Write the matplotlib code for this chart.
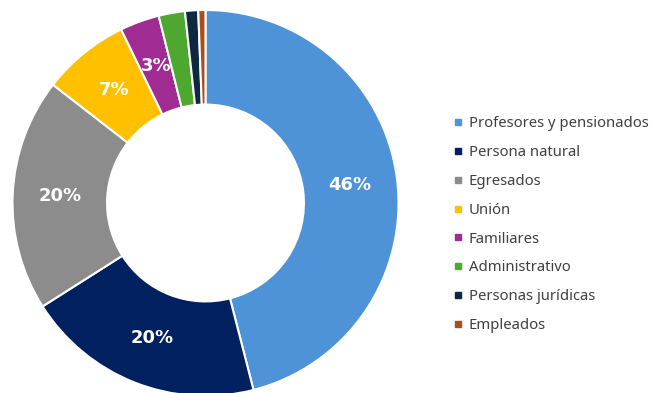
import matplotlib.pyplot as plt
from matplotlib.lines import Line2D

# datos (porcentajes)
categorias = ['Profesores y pensionados', 'Persona natural', 'Egresados', 'Unión',
              'Familiares', 'Administrativo', 'Personas jurídicas', 'Empleados']
valores = [46, 20, 19.5, 7.3, 3.3, 2.2, 1.1, 0.6]
colores = ['#4E93D8', '#002060', '#8C8C8C', '#FFC000',
           '#A02B93', '#4EA72E', '#0E2841', '#A5501E']

fig = plt.figure(figsize=(6.52, 3.93), dpi=100)
ax = fig.add_axes([12.5/652, -3/393, 386/652, 386/393])

def etiqueta(p):
    # solo se rotulan los sectores grandes
    return f'{p:.0f}%' if p >= 3 else ''

wedges, texts, autotexts = ax.pie(
    valores, colors=colores, startangle=90, counterclock=False,
    radius=1, autopct=etiqueta, pctdistance=0.755,
    wedgeprops=dict(width=0.49, edgecolor='white', linewidth=1.5),
    textprops=dict(color='white', fontsize=13, fontweight='bold', family='DejaVu Sans'))
ax.set_xlim(-1, 1)
ax.set_ylim(-1, 1)
ax.set_aspect('equal')
ax.axis('off')

handles = [Line2D([], [], marker='s', linestyle='none', markersize=5,
                  markerfacecolor=c, markeredgecolor=c) for c in colores]
leg = fig.legend(handles, categorias, loc='upper left',
                 bbox_to_anchor=(440/652, 1 - 103/393), frameon=False,
                 handlelength=0.6, handletextpad=0.45, labelspacing=0.93,
                 prop={'family': 'Noto Sans', 'size': 10.7})
for t in leg.get_texts():
    t.set_color('#404040')

plt.savefig('out.png', dpi=100)
